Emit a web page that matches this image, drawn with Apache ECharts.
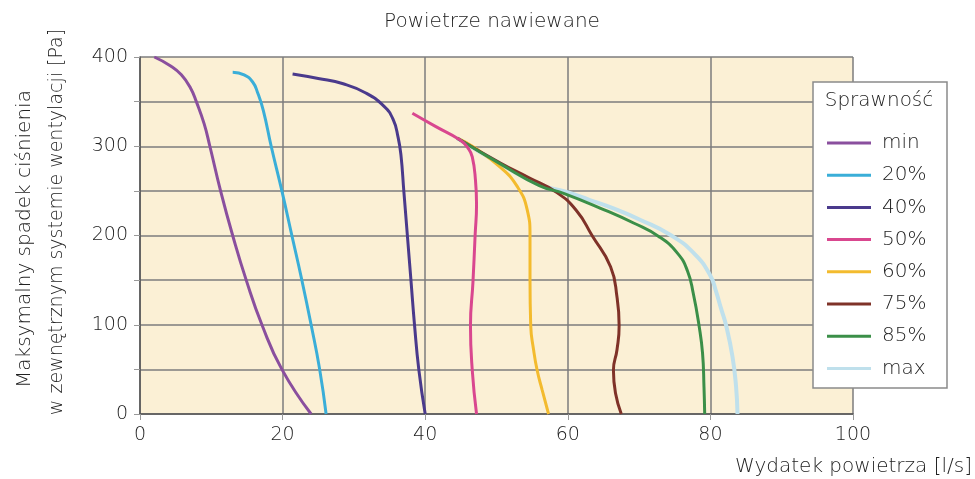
<!DOCTYPE html>
<html>
<head>
<meta charset="utf-8">
<script src="https://cdn.jsdelivr.net/npm/echarts@6/dist/echarts.min.js"></script>
<style>html,body{margin:0;padding:0;background:#fff;}#c{width:975px;height:479px;}</style>
</head>
<body>
<div id="c"></div>
<script>
const seriesNames = ['min','20%','40%','50%','60%','75%','85%','max'];
const seriesColors = ['#8a4f9e','#3aaed8','#4a3a8c','#d9478f','#f3bb2e','#7f3228','#3b8f48','#bfe0ec'];
const xTicks = [0,20,40,60,80,100];
const yTicks = [0,100,200,300,400];

const sMin = [[2,400],[4.3,390],[5.8,380],[7.1,365],[7.9,350],[9.0,325],[9.8,300],[11.3,250],[13.0,200],[14.9,150],[17.1,100],[19.9,50],[24,0]];
const s20 = [[13.0,383],[14.6,380],[15.8,372],[16.5,360],[17.3,340],[18.4,300],[19.9,250],[21.3,200],[22.7,150],[24.0,100],[25.2,50],[26.1,0]];
const s40 = [[21.4,381],[25,376],[28.5,370],[31.6,360],[34.2,345],[35.5,330],[36.2,310],[36.6,290],[37.0,250],[37.5,200],[38.0,150],[38.5,100],[39.1,50],[40,0]];
const s50 = [[38.2,337],[41.5,322],[44.9,307],[46.0,298],[46.6,288],[47.05,262],[47.2,235],[47,200],[46.7,148],[46.35,99],[46.6,49],[47.2,0]];
const s60 = [[44.5,309],[47,298],[50.6,276],[52.9,255],[54.3,229],[54.7,200],[54.7,150],[54.8,99],[55.2,72],[55.7,49],[56.4,27],[57.3,0]];
const s75 = [[44.5,309],[50.6,281],[54.5,265],[58.3,249],[61.2,228],[63.4,200],[66.0,165],[66.9,131],[67.2,99],[66.9,72],[66.4,49],[66.7,23],[67.5,0]];
const s85 = [[44.5,309],[50.6,280],[56,256],[59.5,247],[64.6,230.5],[69.3,213.7],[72.8,198.7],[75.4,180],[76.8,160],[77.6,135],[78.4,99.4],[78.9,68],[79.1,30.6],[79.2,0]];
const sMax = [[44.5,309],[50.6,280],[56,257],[59.7,249],[63,240],[66.5,230],[70.2,217.4],[74.4,200.6],[77.7,180],[80.0,155],[80.8,137],[81.5,118],[82.2,99.4],[83.1,64.2],[83.6,30.6],[83.8,0]];
const allData = [sMin,s20,s40,s50,s60,s75,s85,sMax];

const FONT = 'DejaVu Sans';
const FW = 300;
const TXT = '#222';
const chart = echarts.init(document.getElementById('c'));
chart.setOption({
  animation: false,
  textStyle: {fontFamily: FONT, fontWeight: FW},
  grid: {left: 140, right: 122, top: 57, bottom: 65, show: true, backgroundColor: '#fbf0d5', borderWidth: 0},
  xAxis: {
    type: 'value', min: 0, max: 100, interval: 20,
    axisLine: {show: true, lineStyle: {color: '#555', width: 1.5}},
    axisTick: {show: true, length: 6, lineStyle: {color: '#999'}},
    axisLabel: {fontSize: 19, fontFamily: FONT, fontWeight: FW, color: TXT, margin: 12, formatter: v => xTicks.includes(v) ? String(v) : ''},
    splitLine: {show: true, lineStyle: {color: '#7c7c7c', width: 1.5}}
  },
  yAxis: {
    type: 'value', min: 0, max: 400, interval: 50,
    axisLine: {show: true, lineStyle: {color: '#555', width: 1.5}},
    axisTick: {show: true, length: 6, lineStyle: {color: '#999'}},
    axisLabel: {fontSize: 19, fontFamily: FONT, fontWeight: FW, color: TXT, margin: 12, formatter: v => yTicks.includes(v) ? String(v) : ''},
    splitLine: {show: true, lineStyle: {color: '#7c7c7c', width: 1.5}}
  },
  legend: {
    orient: 'vertical', left: 813, top: 82,
    padding: [51, 12, 10, 14],
    itemWidth: 44, itemHeight: 3, itemGap: 12.2,
    icon: 'rect',
    textStyle: {fontSize: 20, fontFamily: FONT, fontWeight: FW, color: TXT, lineHeight: 20, padding: [0,0,0,6]},
    data: seriesNames,
    z: 10
  },
  graphic: [
    {type: 'rect', z: 8, shape: {x: 813, y: 82, width: 134, height: 306}, style: {fill: '#fff', stroke: '#8a8a8a', lineWidth: 1.5}},
    {type: 'text', z: 9, x: 879, y: 101, style: {text: 'Sprawność', fontSize: 20, fontFamily: FONT, fontWeight: FW, fill: TXT, textAlign: 'center', textVerticalAlign: 'middle'}},
    {type: 'text', x: 492, y: 22, style: {text: 'Powietrze nawiewane', fontSize: 20, fontFamily: FONT, fontWeight: FW, fill: TXT, textAlign: 'center', textVerticalAlign: 'middle'}},
    {type: 'text', x: 972, y: 467, style: {text: 'Wydatek powietrza [l/s]', fontSize: 20, fontFamily: FONT, fontWeight: FW, fill: TXT, textAlign: 'right', textVerticalAlign: 'middle'}},
    {type: 'text', x: 25, y: 239, rotation: Math.PI/2, style: {text: 'Maksymalny spadek ciśnienia', fontSize: 20, fontFamily: FONT, fontWeight: FW, fill: TXT, textAlign: 'center', textVerticalAlign: 'middle'}},
    {type: 'text', x: 57, y: 222, rotation: Math.PI/2, style: {text: 'w zewnętrznym systemie wentylacji [Pa]', fontSize: 19, fontFamily: FONT, fontWeight: FW, fill: TXT, textAlign: 'center', textVerticalAlign: 'middle'}}
  ],
  series: seriesNames.map((n, i) => ({
    name: n, type: 'line', data: allData[i], smooth: 0.5, showSymbol: false,
    color: seriesColors[i],
    lineStyle: {width: i === 7 ? 4 : 3, color: seriesColors[i]},
    z: i === 7 ? 1 : 2 + (i === 3 ? 3 : 0)
  }))
});
</script>
</body>
</html>
